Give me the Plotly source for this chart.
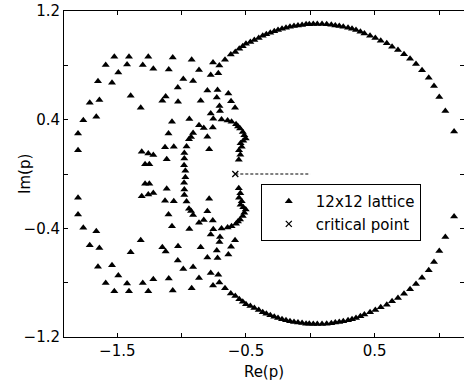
import plotly.graph_objects as go

# ---- Zeros in the complex p plane, 12x12 lattice ----
# Large outer arc, upper half
arc_re_up = [-0.707, -0.663, -0.618, -0.583, -0.552, -0.525, -0.500, -0.466, -0.435, -0.401,
             -0.370, -0.342, -0.311, -0.280, -0.251, -0.220, -0.189, -0.158, -0.127, -0.096,
             -0.064, -0.033, -0.008, 0.023, 0.054, 0.091, 0.127, 0.163, 0.194, 0.225,
             0.256, 0.293, 0.324, 0.355, 0.389, 0.420, 0.464, 0.505, 0.547, 0.594,
             0.635, 0.681, 0.728, 0.775, 0.821, 0.868, 0.920, 0.961, 1.002, 1.049, 1.117]
arc_im_up = [0.798, 0.842, 0.879, 0.898, 0.922, 0.940, 0.959, 0.971, 0.986, 1.001,
             1.018, 1.028, 1.040, 1.050, 1.060, 1.069, 1.077, 1.084, 1.089, 1.094,
             1.097, 1.102, 1.102, 1.104, 1.104, 1.104, 1.102, 1.099, 1.094, 1.089,
             1.084, 1.077, 1.069, 1.060, 1.047, 1.035, 1.018, 1.001, 0.981, 0.962,
             0.937, 0.912, 0.881, 0.848, 0.809, 0.763, 0.708, 0.647, 0.566, 0.463, 0.313]
# Large outer arc, lower half
arc_re_lo = [-0.707, -0.663, -0.618, -0.583, -0.552, -0.525, -0.500, -0.466, -0.435, -0.401,
             -0.370, -0.342, -0.311, -0.280, -0.251, -0.220, -0.189, -0.158, -0.127, -0.096,
             -0.064, -0.033, -0.008, 0.023, 0.054, 0.091, 0.127, 0.163, 0.194, 0.225,
             0.256, 0.293, 0.324, 0.355, 0.389, 0.420, 0.464, 0.505, 0.547, 0.594,
             0.635, 0.681, 0.728, 0.775, 0.821, 0.868, 0.920, 0.961, 1.002, 1.049, 1.117]
arc_im_lo = [-0.798, -0.842, -0.879, -0.898, -0.922, -0.940, -0.959, -0.971, -0.986, -1.001,
             -1.018, -1.028, -1.040, -1.050, -1.060, -1.069, -1.077, -1.084, -1.089, -1.094,
             -1.097, -1.102, -1.102, -1.104, -1.104, -1.104, -1.102, -1.099, -1.094, -1.089,
             -1.084, -1.077, -1.069, -1.060, -1.047, -1.035, -1.018, -1.001, -0.981, -0.962,
             -0.937, -0.912, -0.881, -0.848, -0.809, -0.763, -0.708, -0.647, -0.566, -0.463, -0.313]

# Outer left loop and left clusters
left_re_up = [-1.523, -1.409, -1.259, -1.590, -1.424, -1.302, -1.220, -1.492, -1.650, -1.541,
              -1.714, -1.639, -1.396, -1.318, -1.764, -1.663, -1.805, -1.805, -1.310, -1.259,
              -1.220, -1.284, -1.251]
left_im_up = [0.863, 0.863, 0.863, 0.802, 0.807, 0.802, 0.775, 0.748, 0.682, 0.671,
              0.524, 0.544, 0.576, 0.487, 0.396, 0.421, 0.298, 0.175, 0.163, 0.151,
              0.139, 0.072, 0.072]
left_re_lo = [-1.523, -1.409, -1.259, -1.590, -1.424, -1.302, -1.220, -1.492, -1.650, -1.541,
              -1.714, -1.639, -1.396, -1.318, -1.764, -1.663, -1.805, -1.805, -1.310, -1.259,
              -1.220, -1.284, -1.251]
left_im_lo = [-0.863, -0.863, -0.863, -0.802, -0.807, -0.802, -0.775, -0.748, -0.682, -0.671,
              -0.524, -0.544, -0.576, -0.487, -0.396, -0.421, -0.298, -0.175, -0.163, -0.151,
              -0.139, -0.072, -0.072]

# Inner curves
inner_re_up = [-1.069, -0.922, -0.756, -1.100, -0.865, -0.715, -0.774, -0.987, -0.911, -1.030,
               -0.800, -0.721, -0.637, -1.124, -1.150, -1.028, -0.852, -0.727, -0.616, -0.585,
               -0.706, -0.702, -0.774, -0.754, -0.690, -0.643, -0.612, -0.577, -0.940, -1.075,
               -0.865, -0.828, -0.758, -0.911, -0.927, -0.943, -0.962, -0.979, -0.979, -0.981,
               -0.971, -1.102, -1.129, -1.061, -1.116, -0.800, -0.786]
inner_im_up = [0.858, 0.841, 0.820, 0.770, 0.765, 0.741, 0.728, 0.699, 0.684, 0.636,
               0.615, 0.618, 0.593, 0.571, 0.540, 0.531, 0.540, 0.564, 0.535, 0.487,
               0.501, 0.463, 0.446, 0.406, 0.402, 0.393, 0.384, 0.367, 0.405, 0.384,
               0.358, 0.338, 0.343, 0.301, 0.273, 0.256, 0.203, 0.155, 0.114, 0.065,
               0.024, 0.298, 0.197, 0.200, 0.109, 0.275, 0.183]
inner_re_lo = [-1.069, -0.922, -0.756, -1.100, -0.865, -0.715, -0.774, -0.987, -0.911, -1.030,
               -0.800, -0.721, -0.637, -1.124, -1.150, -1.028, -0.852, -0.727, -0.616, -0.585,
               -0.706, -0.702, -0.774, -0.754, -0.690, -0.643, -0.612, -0.577, -0.940, -1.075,
               -0.865, -0.828, -0.758, -0.911, -0.927, -0.943, -0.962, -0.979, -0.979, -0.981,
               -0.971, -1.102, -1.129, -1.061, -1.116, -0.800, -0.786]
inner_im_lo = [-0.858, -0.841, -0.820, -0.770, -0.765, -0.741, -0.728, -0.699, -0.684, -0.636,
               -0.615, -0.618, -0.593, -0.571, -0.540, -0.531, -0.540, -0.564, -0.535, -0.487,
               -0.501, -0.463, -0.446, -0.406, -0.402, -0.393, -0.384, -0.367, -0.405, -0.384,
               -0.358, -0.338, -0.343, -0.301, -0.273, -0.256, -0.203, -0.155, -0.114, -0.065,
               -0.024, -0.298, -0.197, -0.200, -0.109, -0.275, -0.183]

# Dense cluster next to the critical point
clus_re_up = [-0.546, -0.525, -0.513, -0.502, -0.521, -0.542, -0.533, -0.554, -0.544, -0.556, -0.562]
clus_im_up = [0.335, 0.310, 0.286, 0.262, 0.245, 0.227, 0.201, 0.175, 0.142, 0.105, 0.349]
clus_re_lo = [-0.546, -0.525, -0.513, -0.502, -0.521, -0.542, -0.533, -0.554, -0.544, -0.556, -0.562]
clus_im_lo = [-0.335, -0.310, -0.286, -0.262, -0.245, -0.227, -0.201, -0.175, -0.142, -0.105, -0.349]

# Critical point and the dashed cut to the origin
crit_re = [-0.583]
crit_im = [0.0]
cut_re = [-0.583, 0.0]
cut_im = [0.0, 0.0]

# Axis ticks
x_ticks = [-1.5, -1.0, -0.5, 0.0, 0.5, 1.0]
x_ticktext = ["\u22121.5", "", "\u22120.5", "", "0.5", ""]
y_ticks = [-1.2, -0.8, -0.4, 0.0, 0.4, 0.8, 1.2]
y_ticktext = ["\u22121.2", "", "\u22120.4", "", "0.4", "", "1.2"]

all_re = arc_re_up + arc_re_lo + left_re_up + left_re_lo + inner_re_up + inner_re_lo + clus_re_up + clus_re_lo
all_im = arc_im_up + arc_im_lo + left_im_up + left_im_lo + inner_im_up + inner_im_lo + clus_im_up + clus_im_lo

FONT = "DejaVu Sans, Liberation Sans, sans-serif"

fig = go.Figure()
fig.add_trace(go.Scatter(x=cut_re, y=cut_im, mode="lines",
                         line=dict(color="black", width=1, dash="3px,2px"),
                         showlegend=False, hoverinfo="skip"))
fig.add_trace(go.Scatter(x=all_re, y=all_im, mode="markers", name="12x12 lattice",
                         marker=dict(symbol="triangle-up", size=7, color="black")))
fig.add_trace(go.Scatter(x=crit_re, y=crit_im, mode="markers", name="critical point",
                         marker=dict(symbol="x-thin", size=6, color="black",
                                     line=dict(color="black", width=1.3))))

axis_common = dict(showgrid=False, zeroline=False, showline=True, linecolor="black", linewidth=1,
                   mirror="ticks", ticks="inside", ticklen=4, tickcolor="black", tickwidth=1,
                   tickfont=dict(family=FONT, size=15, color="black"))

fig.update_layout(
    width=464, height=390,
    margin=dict(l=64, r=0, t=11, b=53),
    paper_bgcolor="white", plot_bgcolor="white",
    font=dict(family=FONT, size=15, color="black"),
    xaxis=dict(range=[-1.914, 1.194], tickmode="array", tickvals=x_ticks, ticktext=x_ticktext,
               title=dict(text="Re(p)", standoff=7, font=dict(family=FONT, size=15)), **axis_common),
    yaxis=dict(range=[-1.2, 1.2], tickmode="array", tickvals=y_ticks, ticktext=y_ticktext,
               **axis_common),
    legend=dict(x=0.492, y=0.469, xanchor="left", yanchor="top",
                bgcolor="white", bordercolor="black", borderwidth=1,
                font=dict(family=FONT, size=15, color="black"), itemwidth=44,
                entrywidth=120, entrywidthmode="pixels"),
    annotations=[dict(text="Im(p)", xref="paper", yref="paper", x=-0.0975, y=0.5,
                      xanchor="center", yanchor="middle", textangle=-90, showarrow=False,
                      font=dict(family=FONT, size=15, color="black"))],
)

# Remove the default 8px page margin so the figure sits at the window origin.
fig.write_html("out.html",
               config={"displayModeBar": False},
               post_script="document.body.style.margin='0px';document.body.style.padding='0px';")
